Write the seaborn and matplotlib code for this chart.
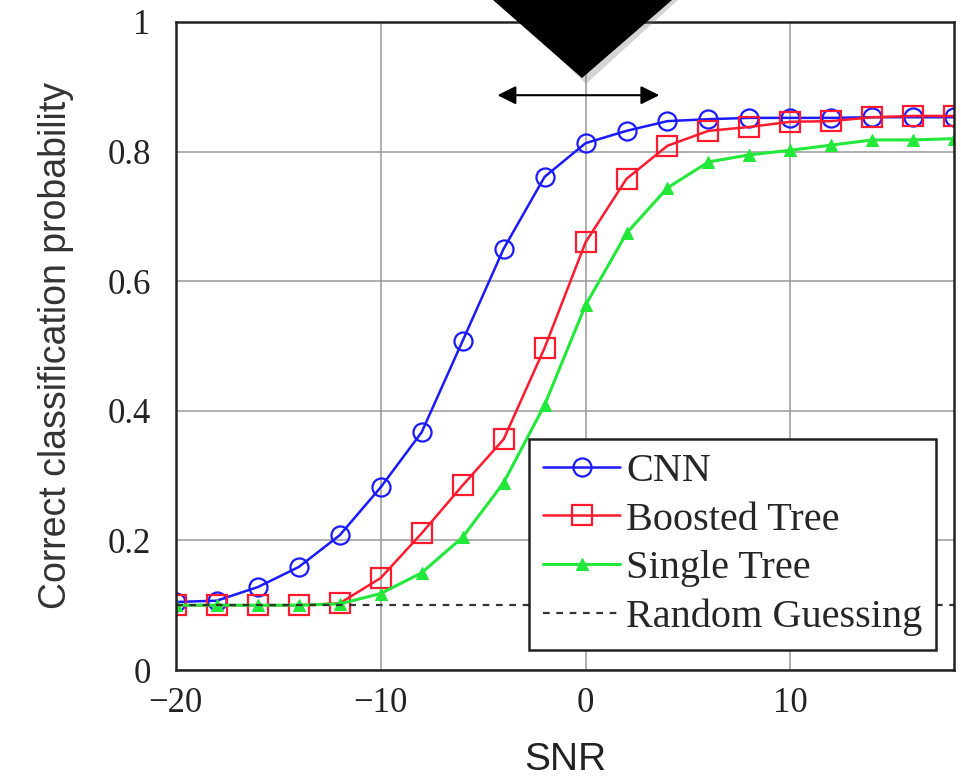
import numpy as np
import pandas as pd
import matplotlib
matplotlib.use('Agg')
import matplotlib.pyplot as plt
from matplotlib.patches import Polygon
import seaborn as sns

# ── data ─────────────────────────────────────────────────────────────────────
snr = [-20, -18, -16, -14, -12, -10, -8, -6, -4, -2, 0,
       2, 4, 6, 8, 10, 12, 14, 16, 18]
cnn = [0.105, 0.107, 0.128, 0.159, 0.208, 0.282, 0.367, 0.508, 0.650, 0.761, 0.813,
       0.832, 0.847, 0.850, 0.852, 0.852, 0.852, 0.853, 0.853, 0.853]
boosted = [0.100, 0.100, 0.100, 0.100, 0.103, 0.142, 0.211, 0.285, 0.356, 0.497, 0.660,
           0.758, 0.809, 0.832, 0.838, 0.846, 0.847, 0.853, 0.855, 0.855]
single = [0.100, 0.100, 0.100, 0.100, 0.102, 0.118, 0.150, 0.205, 0.289, 0.409, 0.563,
          0.674, 0.744, 0.784, 0.795, 0.802, 0.810, 0.818, 0.818, 0.820]
random_guess = [0.1] * len(snr)

df = pd.DataFrame({'SNR': snr, 'CNN': cnn, 'Boosted Tree': boosted,
                   'Single Tree': single, 'Random Guessing': random_guess})

sns.set_style('white')
plt.rcParams['font.family'] = ['Liberation Serif', 'DejaVu Serif']
plt.rcParams['axes.unicode_minus'] = True

fig = plt.figure(figsize=(9.61, 7.82), dpi=100)
ax = fig.add_axes([0.183, 0.1432, 0.810, 0.8287])

sns.lineplot(data=df, x='SNR', y='CNN', ax=ax, color='#1a1aff', lw=1.8,
             marker='o', markersize=13, markerfacecolor='none',
             markeredgecolor='#1a1aff', markeredgewidth=1.6, label='CNN')
sns.lineplot(data=df, x='SNR', y='Boosted Tree', ax=ax, color='#ff1a2e', lw=1.8,
             marker='s', markersize=14, markerfacecolor='none',
             markeredgecolor='#ff1a2e', markeredgewidth=1.6, label='Boosted Tree')
sns.lineplot(data=df, x='SNR', y='Single Tree', ax=ax, color='#22e83a', lw=2.2,
             marker='^', markersize=9, markeredgecolor='#22e83a',
             label='Single Tree')
sns.lineplot(data=df, x='SNR', y='Random Guessing', ax=ax, color='#333333',
             lw=1.6, linestyle=(0, (3, 3)), label='Random Guessing')

ax.set_xlim(-20, 18)
ax.set_ylim(0, 1)
ax.set_xticks([-20, -10, 0, 10])
ax.set_yticks([0, 0.2, 0.4, 0.6, 0.8, 1])
ax.set_yticklabels(['0', '0.2', '0.4', '0.6', '0.8', '1'])
ax.grid(True, color='#999999', lw=1.1)
ax.tick_params(direction='in', labelsize=25, length=6, colors='#222222',
               labelcolor='#222222')
ax.tick_params(axis='y', pad=18)
ax.tick_params(axis='x', pad=12)
for s in ax.spines.values():
    s.set_color('#222222')
    s.set_linewidth(1.8)

ax.set_xlabel('SNR', fontsize=28, family=['Liberation Sans'], color='#222222',
              labelpad=16)
ax.set_ylabel('Correct classification probability', fontsize=27,
              family=['Liberation Sans'], color='#333333', labelpad=24)

leg = ax.legend(loc='lower right', bbox_to_anchor=(0.977, 0.031), fontsize=29,
                frameon=True, fancybox=False, framealpha=1, edgecolor='#222222',
                handlelength=1.9, labelspacing=0.28, handletextpad=0.15,
                borderpad=0.35, borderaxespad=0)
leg.get_frame().set_linewidth(1.8)

# double-headed arrow and the black pointer shape on top
ax.annotate('', xy=(-4.3, 0.887), xytext=(3.6, 0.887),
            arrowprops=dict(arrowstyle='<|-|>', color='black', lw=1.5,
                            mutation_scale=28, shrinkA=0, shrinkB=0))

W, H = 961, 782
shadow = Polygon([(499 / W, 1.0), (678 / W, 1.0), (586 / W, 1 - 84 / H)],
                 closed=True, transform=fig.transFigure, facecolor='#777777',
                 alpha=0.3, edgecolor='none')
tri = Polygon([(493 / W, 1.0), (672 / W, 1.0), (582 / W, 1 - 78 / H)],
              closed=True, transform=fig.transFigure, facecolor='black',
              edgecolor='none')
fig.patches.extend([shadow, tri])

plt.savefig('out.png', dpi=100, facecolor='white')
